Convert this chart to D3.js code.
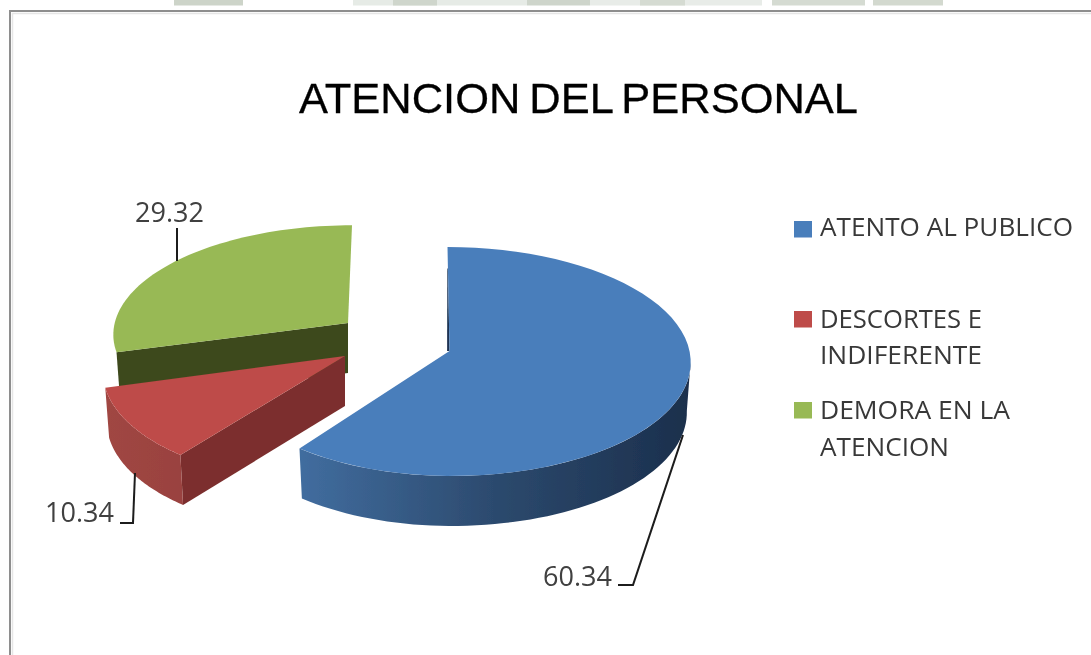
<!DOCTYPE html>
<html><head><meta charset="utf-8">
<script src="https://cdn.jsdelivr.net/npm/d3@7"></script>
<style>html,body{margin:0;padding:0;background:#fff;overflow:hidden}svg{display:block}</style>
</head><body>
<div id="chart"></div>
<script>
const categories = ["ATENTO AL PUBLICO", "DESCORTES E INDIFERENTE", "DEMORA EN LA ATENCION"];
const values = [60.34, 10.34, 29.32];
const title = "ATENCION DEL PERSONAL";

const topColors = ["#4a7ebb", "#be4b48", "#98b954"];
const faceColors = ["#1c3352", "#7b2f2d", "#3e4a1f"];
const wallStops = [["#416d9f", "#2c4a6e", "#1b2f4c"], ["#a04643", "#96403d", "#8e3936"], ["#3e4a1f", "#3e4a1f", "#3e4a1f"]];

// one layout per slice: exploded apex, plane scale, shear
const sliceLayout = [
  {cx: 449.5, cy: 351, sxR: 1, sxL: 0.968, sy: 1, shear: 2, wallFrom: 95 * Math.PI / 180, x0: 299, x1: 690},
  {cx: 345, cy: 356, sxR: 1, sxL: 1, sy: 1.015, shear: -10, x0: 106, x1: 345},
  {cx: 348, cy: 323, sxR: 1, sxL: 0.972, sy: 0.94, shear: -4, x0: 114, x1: 350}
];
const legendLayout = [
  {box: 221, lines: [["ATENTO AL PUBLICO", 236, 253]]},
  {box: 311, lines: [["DESCORTES E", 328, 162], ["INDIFERENTE", 364, 162]]},
  {box: 402, lines: [["DEMORA EN LA", 419, 190], ["ATENCION", 456, 129]]}
];
const labelLayout = [
  {x: 543, y: 586, pts: [[683, 435], [633, 585], [618, 585]]},
  {x: 45, y: 522, pts: [[135, 473], [133, 523], [120, 523]]},
  {x: 135, y: 222, pts: [[177, 228], [177, 261]]}
];

const W = 1091, H = 655, Rx = 240, Ry = 113.5, K = 0.0917, DEPTH = 50, BOTTOM = 0.984;
const svg = d3.select("#chart").append("svg").attr("width", W).attr("height", H);
const defs = svg.append("defs");
const soft = defs.append("filter").attr("id", "soft").attr("filterUnits", "userSpaceOnUse")
  .attr("x", 0).attr("y", 0).attr("width", W).attr("height", H);
soft.append("feGaussianBlur").attr("stdDeviation", 0.65);

svg.append("rect").attr("width", W).attr("height", H).attr("fill", "#fff");
const root = svg.append("g").attr("filter", "url(#soft)");

// scanned page remnants above the frame
[[174, 69, "#cdd4c9"], [353, 174, "#e6ebe6"], [393, 44, "#cfd6cc"], [527, 63, "#ced5cb"], [590, 172, "#e8ece8"], [640, 45, "#d5dbd2"], [772, 93, "#d5dbd2"], [873, 70, "#d3d9cf"]]
  .forEach(d => root.append("rect").attr("x", d[0]).attr("y", 0).attr("width", d[1]).attr("height", 5.5).attr("fill", d[2]));

// frame
root.append("path").attr("d", `M10,${H} V11 H${W}`).attr("fill", "none").attr("stroke", "#8e8e8e").attr("stroke-width", 2);
root.append("path").attr("d", `M12.5,${H} V13.5 H${W}`).attr("fill", "none").attr("stroke", "#e6e6e6").attr("stroke-width", 1.5);

// title
root.append("text").attr("x", 299).attr("y", 113).text(title)
  .attr("font-family", "Liberation Sans").attr("font-size", 43).attr("fill", "#000")
  .attr("stroke", "#000").attr("stroke-width", 0.3).attr("word-spacing", -3)
  .attr("textLength", 559).attr("lengthAdjust", "spacingAndGlyphs");

// pie angles
const arcs = d3.pie().sort(null).startAngle(0).endAngle(2 * Math.PI)(values);

function project(s, a, r, lower) {
  const X = Math.sin(a) * r, Y = -Math.cos(a) * r, w = 1 - K * Y;
  const b = lower ? BOTTOM : 1;
  const sx = X < 0 ? s.sxL : s.sxR;
  return [s.cx + b * (sx * Rx * X / w + s.shear * Y), s.cy + s.sy * Ry * Y / w + (lower ? DEPTH : 0)];
}
const line = d3.line();
const rim = (s, a0, a1, lower) => d3.range(0, 61).map(i => project(s, a0 + (a1 - a0) * i / 60, 1, lower));

const drawOrder = [2, 1, 0];
const pieG = root.append("g");
drawOrder.forEach(i => {
  const d = arcs[i], s = sliceLayout[i];
  const grad = defs.append("linearGradient").attr("id", "wall" + i).attr("gradientUnits", "userSpaceOnUse")
    .attr("x1", s.x0).attr("x2", s.x1).attr("y1", 0).attr("y2", 0);
  wallStops[i].forEach((c, k) => grad.append("stop").attr("offset", k / 2).attr("stop-color", c));

  if (i === 0) {
    // slim inner edge visible along the first radius (tapered sliver)
    const a = project(s, d.startAngle, 0.78), b = project(s, d.startAngle, 0);
    pieG.append("path").attr("d", line([a, b, [b[0] - 2.4, b[1]], [a[0] - 0.6, a[1]]]) + "Z").attr("fill", faceColors[0]);
  }
  // cut face on the first radius (red, green)
  if (i !== 0) {
    const a = project(s, 0, 0), p = project(s, d.startAngle, 1), pl = project(s, d.startAngle, 1, true), al = project(s, d.startAngle, 0, true);
    pieG.append("path").attr("d", line([a, p, pl, al]) + "Z").attr("fill", faceColors[i]);
  }
  // outer wall
  if (i !== 2) {
    const from = i === 0 ? s.wallFrom : d.startAngle;
    const poly = rim(s, from, d.endAngle, false).concat(rim(s, from, d.endAngle, true).reverse());
    pieG.append("path").attr("d", line(poly) + "Z").attr("fill", `url(#wall${i})`);
  }
  // top surface
  const topPts = [project(s, 0, 0)].concat(rim(s, d.startAngle, d.endAngle, false));
  pieG.append("path").attr("d", line(topPts) + "Z").attr("fill", topColors[i]);
});

// leaders and value labels
const fmt = d3.format(".2f");
values.forEach((v, i) => {
  const l = labelLayout[i];
  root.append("path").attr("d", line(l.pts)).attr("fill", "none").attr("stroke", "#1a1a1a").attr("stroke-width", 2);
  root.append("text").attr("x", l.x).attr("y", l.y).text(fmt(v))
    .attr("font-family", "Open Sans").attr("font-size", 27).attr("fill", "#404040")
    .attr("textLength", 69).attr("lengthAdjust", "spacingAndGlyphs");
});

// legend
legendLayout.forEach((l, i) => {
  root.append("rect").attr("x", 794).attr("y", l.box).attr("width", 18).attr("height", 16.5).attr("fill", topColors[i]);
  l.lines.forEach(t => root.append("text").attr("x", 820).attr("y", t[1]).text(t[0])
    .attr("font-family", "Open Sans").attr("font-size", 26).attr("fill", "#383838")
    .attr("textLength", t[2]).attr("lengthAdjust", "spacingAndGlyphs"));
});
</script>
</body></html>
